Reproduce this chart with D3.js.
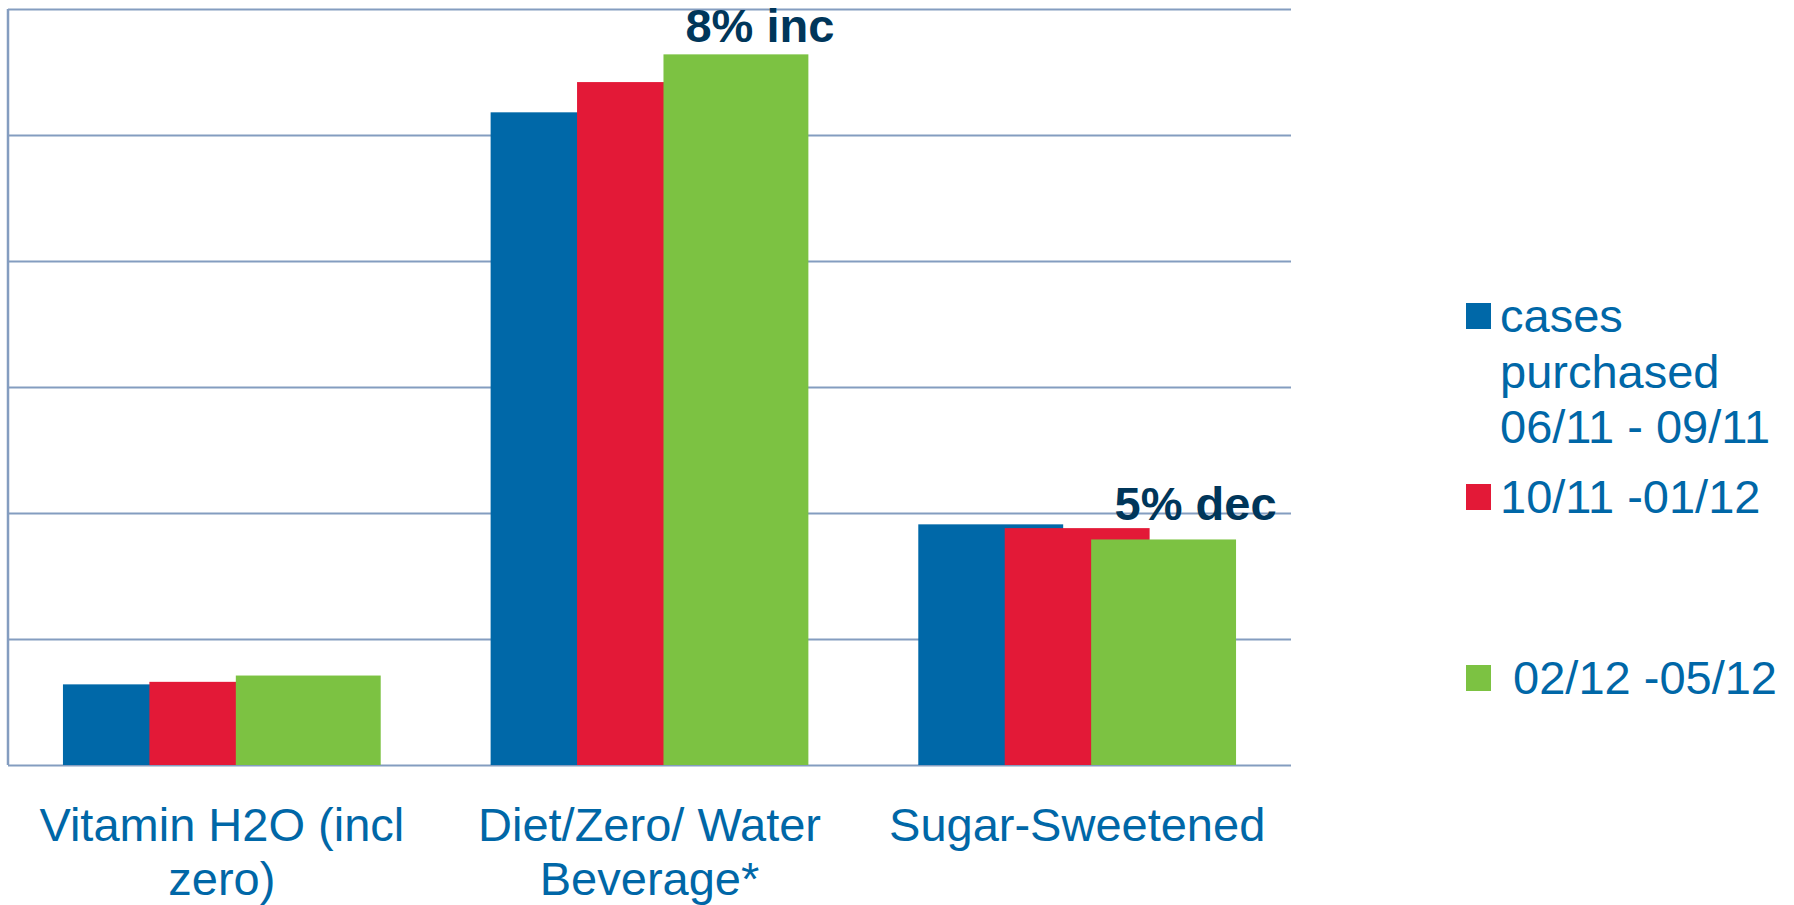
<!DOCTYPE html>
<html>
  <head>
    <meta charset="utf-8">
    <script src="https://d3js.org/d3.v7.min.js"></script>
    <style>
      body {
        margin: 0px;
        background: #fff;
      }
      text {
        font-family: "Liberation Sans", Arial, sans-serif;
      }
      .grid line {
        stroke: #849dc0;
        stroke-width: 2.2;
      }
      .grid .domain {
        display: none;
      }
      .cat-label {
        fill: #0067a7;
        font-size: 47px;
      }
      .legend-label {
        fill: #0067a7;
        font-size: 47px;
      }
      .note {
        fill: #00365a;
        font-size: 47px;
        font-weight: bold;
      }
    </style>
  </head>
  <body>
    <svg width="1794" height="905"></svg>
    <script>
      // categories, two-line labels
      const categories = ['Vitamin H2O (incl zero)', 'Diet/Zero/ Water Beverage*', 'Sugar-Sweetened'];
      const categoryLines = [['Vitamin H2O (incl', 'zero)'], ['Diet/Zero/ Water', 'Beverage*'], ['Sugar-Sweetened']];

      const series = ['06/11 - 09/11', '10/11 -01/12', '02/12 -05/12'];
      const seriesLines = [['cases', 'purchased', '06/11 - 09/11'], ['10/11 -01/12'], [' 02/12 -05/12']];
      const colors = ['#0068a8', '#e31937', '#7cc242'];

      // values (no axis labels shown, arbitrary units)
      const period1 = [6.4, 51.8, 19.1];
      const period2 = [6.6, 54.2, 18.8];
      const period3 = [7.1, 56.4, 17.9];

      const gridTicks = [0, 10, 20, 30, 40, 50, 60];

      const notes = [
        { cat: 1, text: '8% inc', dx: 24, dy: -12 },
        { cat: 2, text: '5% dec', dx: 32, dy: -19 }
      ];

      const svg = d3.select('svg');
      const plot = { left: 8, right: 1291, top: 9, bottom: 765 };

      const x0 = d3.scaleBand()
        .domain(categories)
        .range([plot.left, plot.right])
        .paddingInner(0.257)
        .paddingOuter(0.1285);

      const barW = x0.bandwidth() * 0.456;
      const x1 = d3.scalePoint()
        .domain(series)
        .range([0, x0.bandwidth() - barW]);

      const y = d3.scaleLinear()
        .domain([0, 60])
        .range([plot.bottom, plot.top]);

      // gridlines
      svg.append('g')
        .attr('class', 'grid')
        .attr('transform', `translate(${plot.left},0)`)
        .call(d3.axisLeft(y).tickValues(gridTicks).tickSize(-(plot.right - plot.left)).tickFormat(''));

      // left axis line
      svg.append('line')
        .attr('x1', plot.left).attr('x2', plot.left)
        .attr('y1', y(60)).attr('y2', y(0))
        .attr('stroke', '#849dc0')
        .attr('stroke-width', 2.5);

      const allValues = [period1, period2, period3];
      const bars = [];
      series.forEach((s, si) => {
        categories.forEach((c, ci) => {
          bars.push({ s: s, si: si, c: c, v: allValues[si][ci] });
        });
      });

      svg.append('g').selectAll('rect').data(bars)
        .enter()
        .append('rect')
          .attr('x', d => x0(d.c) + x1(d.s))
          .attr('y', d => y(d.v))
          .attr('width', barW)
          .attr('height', d => y(0) - y(d.v))
          .attr('fill', d => colors[d.si]);

      // category labels
      categoryLines.forEach((lines, i) => {
        const t = svg.append('text')
          .attr('class', 'cat-label')
          .attr('text-anchor', 'middle')
          .attr('x', x0(categories[i]) + x0.bandwidth() / 2)
          .attr('y', 841);
        lines.forEach((l, li) => {
          t.append('tspan')
            .attr('x', x0(categories[i]) + x0.bandwidth() / 2)
            .attr('dy', li === 0 ? 0 : 54)
            .text(l);
        });
      });

      // annotations over the last period bars
      notes.forEach(n => {
        const c = categories[n.cat];
        svg.append('text')
          .attr('class', 'note')
          .attr('text-anchor', 'middle')
          .attr('x', x0(c) + x1(series[2]) + barW / 2 + n.dx)
          .attr('y', y(period3[n.cat]) + n.dy)
          .text(n.text);
      });

      // legend
      const legend = svg.append('g').attr('transform', 'translate(1466,332)');
      seriesLines.forEach((lines, i) => {
        const gy = i * 181;
        legend.append('rect')
          .attr('x', 0).attr('y', gy - 29)
          .attr('width', 25).attr('height', 26)
          .attr('fill', colors[i]);
        const t = legend.append('text')
          .attr('class', 'legend-label')
          .attr('xml:space', 'preserve')
          .style('white-space', 'pre')
          .attr('y', gy);
        lines.forEach((l, li) => {
          t.append('tspan')
            .attr('x', 34)
            .attr('dy', li === 0 ? 0 : 55.5)
            .text(l);
        });
      });
    </script>
  </body>
</html>
